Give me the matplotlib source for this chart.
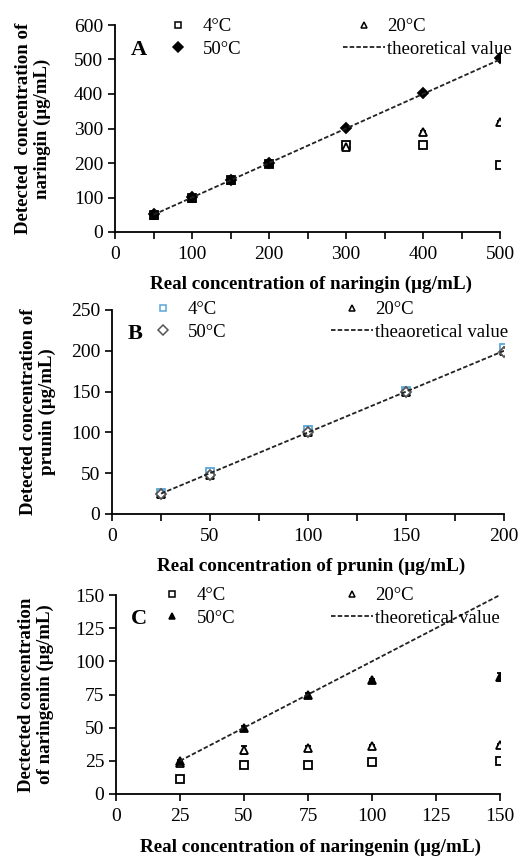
import matplotlib.pyplot as plt
from matplotlib.lines import Line2D
from matplotlib.ticker import MultipleLocator

plt.rcParams["font.family"] = ["Liberation Serif", "DejaVu Serif"]

# ── Panel A: naringin ────────────────────────────────────────────────────────
a_x = [50, 100, 150, 200, 300, 400, 500]
a_4c = [50, 100, 150, 197, 252, 252, 195]
a_4c_err = [2, 3, 2, 3, 4, 3, 3]
a_20c = [50, 100, 150, 199, 246, 290, 318]
a_20c_err = [2, 3, 2, 3, 4, 3, 3]
a_50c = [52, 102, 152, 200, 302, 402, 503]
a_50c_err = [2, 2, 2, 2, 2, 2, 2]
a_theory = [50, 500]

# ── Panel B: prunin ──────────────────────────────────────────────────────────
b_x = [25, 50, 100, 150, 200]
b_4c = [26, 51, 103, 151, 204]
b_4c_err = [1, 1, 1, 1, 1]
b_20c = [25, 48, 101, 150, 200]
b_20c_err = [1, 1, 1, 1, 1]
b_50c = [24, 48, 100, 149, 198]
b_50c_err = [1, 1, 1, 1, 1]
b_theory = [25, 200]

# ── Panel C: naringenin ──────────────────────────────────────────────────────
c_x = [25, 50, 75, 100, 150]
c_4c = [11, 22, 22, 24, 25]
c_4c_err = [1, 1, 1, 1, 2]
c_20c = [23, 33, 35, 36, 37]
c_20c_err = [1, 3, 1, 1, 1]
c_50c = [25, 50, 75, 86, 88]
c_50c_err = [1, 1, 1, 1, 3]
c_theory = [25, 150]

BLUE = "#5aa7d6"
DASH = (0, (2.5, 1.2))
LEG_FS = 13.5

fig = plt.figure(figsize=(5.18, 8.59), dpi=100)


def px(x, y):
    return x / 518, 1 - y / 859


def panel(rect, letter, x, series, theory, xlim, ylim, xmajor, xminor, ymajor,
          ylabel, xlabel, ylab_x, xlab_y, leg1, leg2, theory_label):
    l, t, r, b = rect
    ax = fig.add_axes([l / 518, 1 - b / 859, (r - l) / 518, (b - t) / 859])
    for (vals, err, marker, mfc, mec, label) in series:
        ax.errorbar(x, vals, yerr=err, fmt=marker, ms=5.5, mfc=mfc, mec=mec,
                    mew=1.3, ecolor="black", elinewidth=0.8, capsize=2.2,
                    capthick=0.8, zorder=3)
    ax.plot(theory, theory, ls=DASH, color="#222222", lw=1.3, zorder=4)
    ax.set_xlim(*xlim)
    ax.set_ylim(*ylim)
    ax.xaxis.set_major_locator(MultipleLocator(xmajor))
    ax.xaxis.set_minor_locator(MultipleLocator(xminor))
    ax.yaxis.set_major_locator(MultipleLocator(ymajor))
    for s in ("top", "right"):
        ax.spines[s].set_visible(False)
    for s in ("left", "bottom"):
        ax.spines[s].set_linewidth(1.3)
    ax.tick_params(which="both", direction="out", width=1.2, labelsize=14)
    ax.tick_params(which="both", length=5)
    ax.tick_params(axis="x", pad=5)
    ax.text(0.04, 0.88, letter, transform=ax.transAxes, fontsize=16,
            fontweight="bold", va="center")
    cy = (t + b) / 2
    fig.text(*px(ylab_x, cy), ylabel, rotation=90, ha="center", va="center",
             fontsize=13.6, fontweight="bold", multialignment="center",
             linespacing=1.15)
    fig.text(*px((l + r) / 2 + 3, xlab_y), xlabel, ha="center", va="center",
             fontsize=13.8, fontweight="bold")

    handles = []
    for (vals, err, marker, mfc, mec, label) in series:
        handles.append(Line2D([], [], ls="none", marker=marker, ms=5,
                              mfc=mfc, mec=mec, mew=1.1, label=label))
    line_h = Line2D([], [], ls=DASH, color="#222222", lw=1.3,
                    label=theory_label)
    lg1 = ax.legend(handles=[handles[0], handles[2]], loc="upper left",
                    bbox_to_anchor=px(*leg1), bbox_transform=fig.transFigure,
                    frameon=False, fontsize=LEG_FS, handlelength=2.24,
                    handletextpad=0.2, borderpad=0, borderaxespad=0,
                    labelspacing=0.3)
    ax.add_artist(lg1)
    ax.legend(handles=[handles[1], line_h], loc="upper left",
              bbox_to_anchor=px(*leg2), bbox_transform=fig.transFigure,
              frameon=False, fontsize=LEG_FS, handlelength=2.24,
              handletextpad=0.1, borderpad=0, borderaxespad=0,
              labelspacing=0.3)
    return ax


panel((115, 25, 500, 232), "A", a_x,
      [(a_4c, a_4c_err, "s", "white", "black", "4°C"),
       (a_20c, a_20c_err, "^", "white", "black", "20°C"),
       (a_50c, a_50c_err, "D", "black", "black", "50°C")],
      a_theory, (0, 500), (0, 600), 100, 50, 100,
      "Detected  concentration of\nnaringin (μg/mL)",
      "Real concentration of naringin (μg/mL)", 33, 284,
      (157, 18), (343, 18), "theoretical value")

panel((112, 310, 504, 514), "B", b_x,
      [(b_4c, b_4c_err, "s", "white", BLUE, "4°C"),
       (b_20c, b_20c_err, "^", "white", "black", "20°C"),
       (b_50c, b_50c_err, "D", "white", "#555555", "50°C")],
      b_theory, (0, 200), (0, 250), 50, 25, 50,
      "Detected concentration of\nprunin (μg/mL)",
      "Real concentration of prunin (μg/mL)", 38, 566,
      (142, 301), (331, 301), "theaoretical value")

panel((116, 595, 500, 794), "C", c_x,
      [(c_4c, c_4c_err, "s", "white", "black", "4°C"),
       (c_20c, c_20c_err, "^", "white", "black", "20°C"),
       (c_50c, c_50c_err, "^", "black", "black", "50°C")],
      c_theory, (0, 150), (0, 150), 25, 25, 25,
      "Dectected concentration\nof naringenin (μg/mL)",
      "Real concentration of naringenin (μg/mL)", 36, 847,
      (151, 587), (331, 587), "theoretical value")

fig.savefig("out.png", dpi=100)
